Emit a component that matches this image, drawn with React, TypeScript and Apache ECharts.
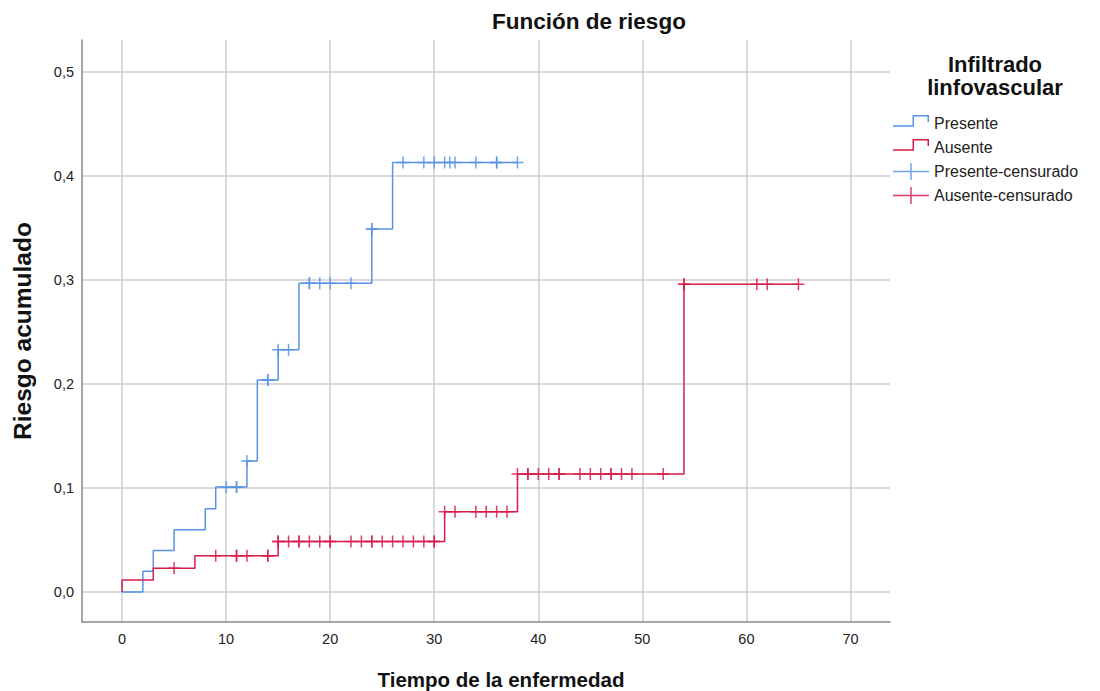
import React, { useEffect, useRef } from 'react';
import * as echarts from 'echarts';

// ---- Data ----
const presenteEventTimes = [0, 2, 3, 5, 8, 9, 12, 13, 15, 17, 24, 26];
const presenteRisk = [0, 0.02, 0.04, 0.06, 0.08, 0.101, 0.126, 0.204, 0.233, 0.297, 0.349, 0.413];
const presenteEnd = 38;
const presenteCensored = [10, 11, 11, 12, 14, 14, 15, 16, 18, 18, 19, 20, 22, 24, 24, 27, 29, 30, 31, 31.5, 32, 34, 36, 36, 38];

const ausenteEventTimes = [0, 0, 3, 7, 15, 31, 38, 54];
const ausenteRisk = [0, 0.0115, 0.0228, 0.035, 0.0485, 0.0772, 0.1135, 0.296];
const ausenteEnd = 65;
const ausenteCensored = [5, 9, 11, 11, 12, 14, 14, 15, 15, 16, 17, 17, 18, 19, 20, 20, 22, 23, 24, 24, 25, 26, 27, 28, 29, 30, 30, 31, 32, 34, 35, 36, 37, 38, 39, 39, 40, 41, 42, 42, 44, 45, 46, 47, 47, 48, 49, 52, 54, 54, 61, 62, 65];

const seriesNames = ['Presente', 'Ausente', 'Presente-censurado', 'Ausente-censurado'];

const BLUE = '#5794e4';
const RED = '#d81b4b';
const FONT = "'Liberation Sans', Arial, sans-serif";

function stepData(times: number[], risk: number[], end: number) {
  const d = times.map((t, i) => [t, risk[i]]);
  d.push([end, risk[risk.length - 1]]);
  return d;
}

function riskAt(times: number[], risk: number[], t: number) {
  let r = risk[0];
  for (let i = 0; i < times.length; i++) if (times[i] <= t) r = risk[i];
  return r;
}

function censorData(times: number[], risk: number[], cens: number[]) {
  return cens.map((t) => [t, riskAt(times, risk, t)]);
}

const crossSymbol = 'path://M5.25,0H6.75V12H5.25Z M0,5.25H12V6.75H0Z';
const legendCross = 'path://M17.25,0H18.75V17H17.25Z M0,7.75H36V9.25H0Z';
const legendStep = 'path://M0,17 M0,10.2H21V11.7H0Z M19.5,0H21V11.7H19.5Z M19.5,0H36V1.5H19.5Z M34.5,0H36V7H34.5Z';

export default function App() {
  const ref = useRef<HTMLDivElement>(null);
  useEffect(() => {
    if (!ref.current) return;
    const chart = echarts.init(ref.current, undefined, { renderer: 'svg' });
    chart.setOption({
      animation: false,
      backgroundColor: '#ffffff',
      grid: { left: 82, right: 210, top: 40, bottom: 69, containLabel: false, outerBoundsMode: 'none' },
      graphic: [
        {
          type: 'text',
          x: 589,
          y: 21,
          style: {
            text: 'Función de riesgo',
            fontSize: 22.5,
            fontWeight: 'bold',
            fontFamily: FONT,
            fill: '#111',
            align: 'center',
            verticalAlign: 'middle',
          },
        },
        {
          type: 'text',
          x: 995,
          y: 76,
          style: {
            text: 'Infiltrado\nlinfovascular',
            fontSize: 22,
            lineHeight: 23,
            fontWeight: 'bold',
            fontFamily: FONT,
            fill: '#111',
            align: 'center',
            verticalAlign: 'middle',
          },
        },
      ],
      legend: {
        orient: 'vertical',
        left: 893,
        top: 115,
        padding: 0,
        itemWidth: 36,
        itemHeight: 17,
        itemGap: 7,
        selectedMode: false,
        textStyle: { fontSize: 16, color: '#222', fontFamily: FONT },
        data: [
          { name: seriesNames[0], icon: legendStep },
          { name: seriesNames[1], icon: legendStep },
          { name: seriesNames[2], icon: legendCross },
          { name: seriesNames[3], icon: legendCross },
        ],
      },
      xAxis: {
        type: 'value',
        min: -3.85,
        max: 73.8,
        minInterval: 10,
        maxInterval: 10,
        splitNumber: 7,
        name: 'Tiempo de la enfermedad',
        nameLocation: 'middle',
        nameGap: 47,
        nameTextStyle: { fontSize: 20.5, fontWeight: 'bold', color: '#111', fontFamily: FONT, padding: [0, 0, 0, 30] },
        axisLine: { show: true, onZero: false, lineStyle: { color: '#8a8a8a', width: 1.5 } },
        axisTick: { show: false },
        axisLabel: { showMinLabel: false, showMaxLabel: false, fontSize: 14.5, color: '#222', margin: 9, fontFamily: FONT },
        splitLine: { show: true, showMinLine: false, showMaxLine: false, lineStyle: { color: '#cccccc', width: 1.5 } },
      },
      yAxis: {
        type: 'value',
        min: -0.0288,
        max: 0.5308,
        minInterval: 0.1,
        maxInterval: 0.1,
        splitNumber: 5,
        name: 'Riesgo acumulado',
        nameLocation: 'middle',
        nameGap: 47,
        nameTextStyle: { fontSize: 24.5, fontWeight: 'bold', color: '#111', fontFamily: FONT },
        axisLine: { show: true, onZero: false, lineStyle: { color: '#8a8a8a', width: 1.5 } },
        axisTick: { show: false },
        axisLabel: {
          showMinLabel: false,
          showMaxLabel: false,
          fontSize: 14.5,
          color: '#222',
          margin: 8,
          fontFamily: FONT,
          formatter: (v: number) => Math.abs(v).toFixed(1).replace('.', ','),
        },
        splitLine: { show: true, showMinLine: false, showMaxLine: false, lineStyle: { color: '#cccccc', width: 1.5 } },
      },
      series: [
        {
          name: seriesNames[0],
          type: 'line',
          step: 'end',
          showSymbol: false,
          data: stepData(presenteEventTimes, presenteRisk, presenteEnd),
          itemStyle: { color: BLUE },
          lineStyle: { color: BLUE, width: 1.5 },
          z: 2,
        },
        {
          name: seriesNames[1],
          type: 'line',
          step: 'end',
          showSymbol: false,
          data: stepData(ausenteEventTimes, ausenteRisk, ausenteEnd),
          itemStyle: { color: RED },
          lineStyle: { color: RED, width: 1.5 },
          z: 2,
        },
        {
          name: seriesNames[2],
          type: 'scatter',
          symbol: crossSymbol,
          symbolSize: 12,
          data: censorData(presenteEventTimes, presenteRisk, presenteCensored),
          itemStyle: { color: BLUE, opacity: 0.85 },
          z: 3,
        },
        {
          name: seriesNames[3],
          type: 'scatter',
          symbol: crossSymbol,
          symbolSize: 12,
          data: censorData(ausenteEventTimes, ausenteRisk, ausenteCensored),
          itemStyle: { color: RED, opacity: 0.85 },
          z: 3,
        },
      ],
    });
    return () => chart.dispose();
  }, []);
  return <div ref={ref} style={{ position: 'absolute', left: 0, top: 0, width: 1100, height: 691 }} />;
}
